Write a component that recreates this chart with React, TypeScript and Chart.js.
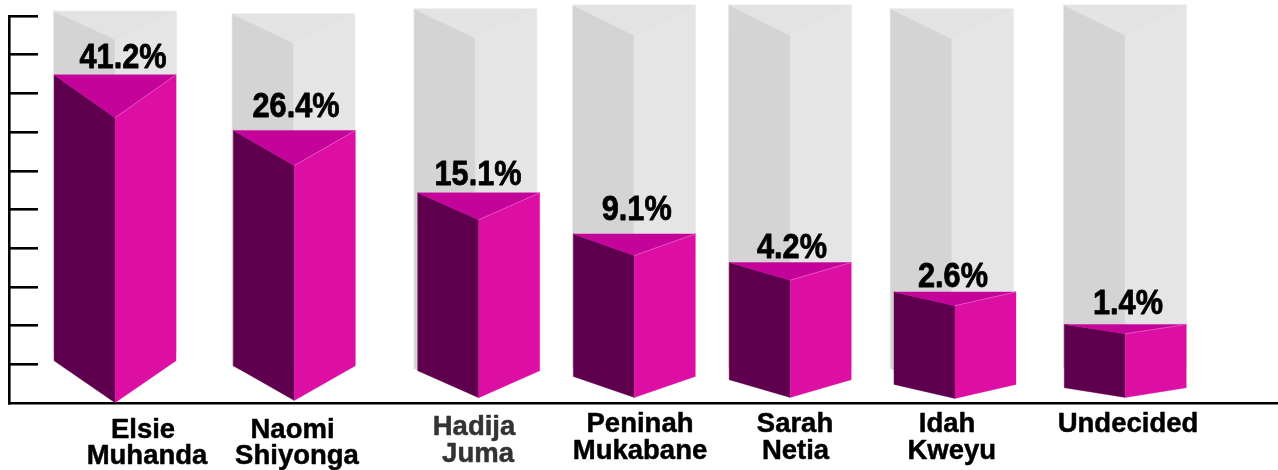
import React, { useEffect, useRef } from "react";
import { Chart, registerables } from "chart.js";

Chart.register(...registerables);

// ---- data ----
const categories: string[][] = [
  ["Elsie", "Muhanda"],
  ["Naomi", "Shiyonga"],
  ["Hadija", "Juma"],
  ["Peninah", "Mukabane"],
  ["Sarah", "Netia"],
  ["Idah", "Kweyu"],
  ["Undecided"],
];
const shareLabels = ["41.2%", "26.4%", "15.1%", "9.1%", "4.2%", "2.6%", "1.4%"];
const barHeights = [8.48, 7.04, 5.43, 4.37, 3.63, 2.87, 2.03];
const backdropHeights = [10.12, 10.05, 10.18, 10.28, 10.28, 10.18, 10.28];
const axisTickCount = 10;

// ---- layout and style, kept apart from the data ----
const barNudge = [15.4, 13.4, 16.5, -9.2, -34.6, -51.1, -62.1];
const backdropNudge = [15.4, 12.6, 13.1, -9.5, -34.8, -54.3, -62.4];
const barTopDepth = [43, 35, 27, 21.7, 17.7, 13.7, 9.4];
const barSideLift = [41, 36, 31, 25.3, 22, 17.3, 14];
const barTipDrop = [1, -1.3, -4, -4.3, -4.3, -3.3, -4.3];
const backdropTopDepth = [28, 29, 29, 30, 30, 30, 30];
const backdropSideLift = [49, 35, 33, 33, 33, 33, 33];
const labelShift: [number, number][] = [
  [8, -7], [1.7, -14], [-0.7, -8], [2.4, -14], [1.8, -5], [-2, -5], [2.7, -10],
];
const nameCenters = [
  [143, 147], [292.5, 297], [474, 478], [640, 640], [795, 795.5], [947, 951.7], [1128],
];
const nameBaselines = [
  [438, 464], [438, 464], [435, 462], [431.7, 459], [431.7, 459], [431.7, 459], [431.7],
];
const FONT = '"Liberation Sans", Arial, sans-serif';
const colors = {
  side: "#5f004f", front: "#dd0ea3", top: "#c4039a", seam: "rgba(243,120,215,0.75)",
  greySide: "#d4d4d4", greyFront: "#e5e5e5", greyTop: "#e3e3e3", greyEdge: "#eeeeee",
};

function poly(ctx: CanvasRenderingContext2D, pts: number[][], fill: string) {
  ctx.beginPath();
  pts.forEach(([x, y], i) => (i ? ctx.lineTo(x, y) : ctx.moveTo(x, y)));
  ctx.closePath();
  ctx.fillStyle = fill;
  ctx.fill();
  ctx.strokeStyle = fill;
  ctx.lineWidth = 0.4;
  ctx.stroke();
}

function prism(
  ctx: CanvasRenderingContext2D,
  el: any,
  nudge: number,
  depth: number,
  lift: number,
  tip: number,
  side: string,
  front: string,
  top: string
) {
  const mid = el.x + nudge;
  const l = mid - el.width / 2;
  const r = mid + el.width / 2;
  const t = el.y;
  const b = el.base;
  poly(ctx, [[l, t], [mid, t + depth], [mid, b + tip], [l, b - lift]], side);
  poly(ctx, [[r, t], [mid, t + depth], [mid, b + tip], [r, b - lift]], front);
  poly(ctx, [[l, t], [r, t], [mid, t + depth]], top);
}

function boldText(ctx: CanvasRenderingContext2D, text: string, x: number, y: number, weight: number) {
  ctx.lineWidth = weight;
  ctx.lineJoin = "round";
  ctx.strokeStyle = ctx.fillStyle as string;
  ctx.strokeText(text, x, y);
  ctx.fillText(text, x, y);
}

const prismPlugin = {
  id: "prismBars",
  afterDatasetsDraw(chart: any) {
    const ctx: CanvasRenderingContext2D = chart.ctx;
    const back = chart.getDatasetMeta(0).data;
    const bars = chart.getDatasetMeta(1).data;
    ctx.save();
    back.forEach((el: any, i: number) => {
      const mid = el.x + backdropNudge[i];
      ctx.fillStyle = colors.greyEdge;
      ctx.fillRect(mid - el.width / 2 - 1, el.y - 0.7, el.width + 2, el.base - backdropSideLift[i] - el.y + 0.7);
      prism(ctx, el, backdropNudge[i], backdropTopDepth[i], backdropSideLift[i], -10,
        colors.greySide, colors.greyFront, colors.greyTop);
    });
    bars.forEach((el: any, i: number) => {
      prism(ctx, el, barNudge[i], barTopDepth[i], barSideLift[i], barTipDrop[i],
        colors.side, colors.front, colors.top);
      const mid = el.x + barNudge[i];
      ctx.beginPath();
      ctx.moveTo(mid, el.y + barTopDepth[i]);
      ctx.lineTo(mid + el.width / 2, el.y);
      ctx.strokeStyle = colors.seam;
      ctx.lineWidth = 0.8;
      ctx.stroke();
    });
    ctx.fillStyle = "#000000";
    ctx.textAlign = "center";
    ctx.textBaseline = "alphabetic";
    bars.forEach((el: any, i: number) => {
      ctx.save();
      ctx.translate(el.x + barNudge[i] + labelShift[i][0], el.y + labelShift[i][1]);
      ctx.scale(1, 1.13);
      ctx.font = `bold 30.7px ${FONT}`;
      boldText(ctx, shareLabels[i], 0, 0, 0.7);
      ctx.restore();
    });
    ctx.font = `bold 27.5px ${FONT}`;
    categories.forEach((lines, i) => {
      ctx.fillStyle = i === 2 ? "#333333" : "#000000";
      lines.forEach((line, k) => boldText(ctx, line, nameCenters[i][k], nameBaselines[i][k], 0.5));
    });
    ctx.restore();
  },
};

export default function App() {
  const ref = useRef<HTMLCanvasElement>(null);
  useEffect(() => {
    document.body.style.margin = "0";
    document.body.style.overflow = "hidden";
    const chart = new Chart(ref.current as HTMLCanvasElement, {
      type: "bar",
      data: {
        labels: categories.map((c) => c.join(" ")),
        datasets: [
          { label: "Backdrop", data: backdropHeights, backgroundColor: "transparent" },
          { label: "Share", data: barHeights, backgroundColor: "transparent" },
        ],
      },
      options: {
        responsive: false,
        animation: false,
        events: [],
        layout: { padding: { left: 9, top: 16, right: 0, bottom: 67 } },
        plugins: { legend: { display: false }, tooltip: { enabled: false }, title: { display: false } },
        datasets: { bar: { grouped: false, barPercentage: 0.673, categoryPercentage: 1 } },
        scales: {
          x: {
            ticks: { display: false },
            grid: { display: false, drawTicks: false },
            border: { display: true, color: "#000", width: 2.6 },
            afterFit: (s: any) => { s.height = 0; },
          },
          y: {
            min: 0,
            max: axisTickCount,
            afterFit: (s: any) => { s.width = 0; },
            ticks: { display: false, stepSize: 1 },
            grid: {
              drawOnChartArea: false, drawTicks: true, tickLength: -29,
              tickColor: (c: any) => (c.tick && c.tick.value === 0 ? "rgba(0,0,0,0)" : "#000"),
              tickWidth: 2.6, color: "#000", lineWidth: 2.6,
            },
            border: { display: true, color: "#000", width: 2.6 },
          },
        },
      } as any,
      plugins: [prismPlugin],
    });
    return () => chart.destroy();
  }, []);
  return (
    <div style={{ position: "absolute", left: 0, top: 0, width: 1278, height: 470 }}>
      <canvas ref={ref} width={1278} height={470} style={{ display: "block" }} />
    </div>
  );
}
